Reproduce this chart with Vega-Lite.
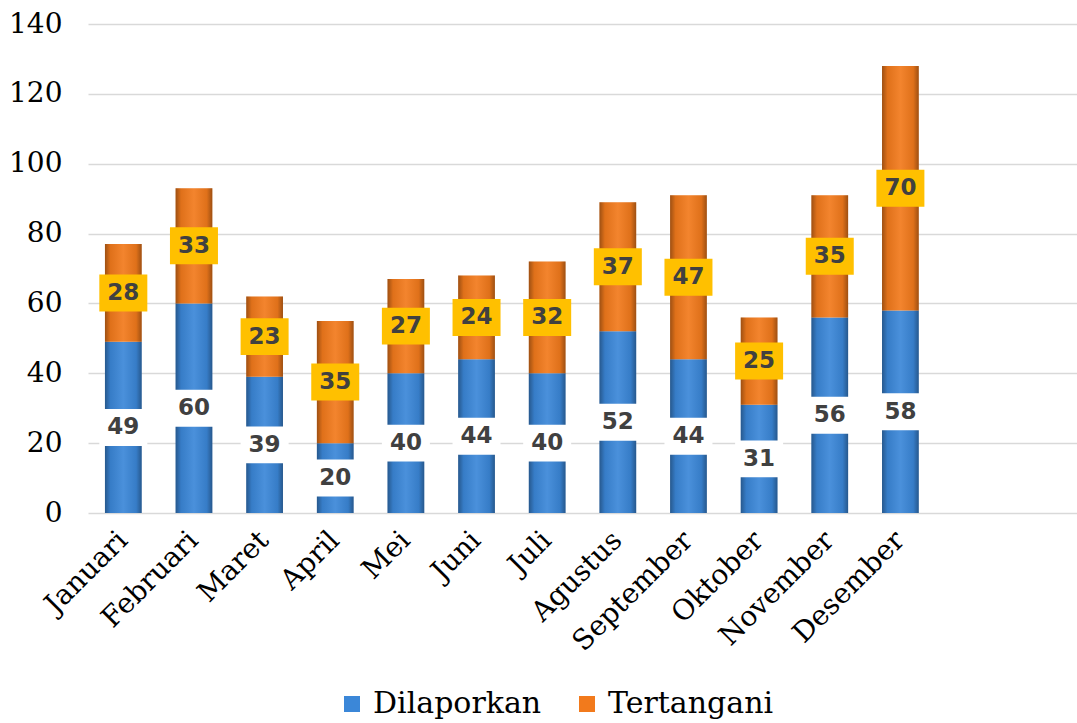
{
  "$schema": "https://vega.github.io/schema/vega-lite/v6.json",
  "width": 989,
  "height": 489,
  "autosize": {"type": "none"},
  "padding": {"left": 88, "top": 24, "right": 0, "bottom": 210},
  "background": "white",
  "config": {"view": {"stroke": null}, "font": "DejaVu Serif"},
  "data": {
    "values": [
      {"month": "Januari", "series": "Dilaporkan", "value": 49},
      {"month": "Februari", "series": "Dilaporkan", "value": 60},
      {"month": "Maret", "series": "Dilaporkan", "value": 39},
      {"month": "April", "series": "Dilaporkan", "value": 20},
      {"month": "Mei", "series": "Dilaporkan", "value": 40},
      {"month": "Juni", "series": "Dilaporkan", "value": 44},
      {"month": "Juli", "series": "Dilaporkan", "value": 40},
      {"month": "Agustus", "series": "Dilaporkan", "value": 52},
      {"month": "September", "series": "Dilaporkan", "value": 44},
      {"month": "Oktober", "series": "Dilaporkan", "value": 31},
      {"month": "November", "series": "Dilaporkan", "value": 56},
      {"month": "Desember", "series": "Dilaporkan", "value": 58},
      {"month": "Januari", "series": "Tertangani", "value": 28},
      {"month": "Februari", "series": "Tertangani", "value": 33},
      {"month": "Maret", "series": "Tertangani", "value": 23},
      {"month": "April", "series": "Tertangani", "value": 35},
      {"month": "Mei", "series": "Tertangani", "value": 27},
      {"month": "Juni", "series": "Tertangani", "value": 24},
      {"month": "Juli", "series": "Tertangani", "value": 32},
      {"month": "Agustus", "series": "Tertangani", "value": 37},
      {"month": "September", "series": "Tertangani", "value": 47},
      {"month": "Oktober", "series": "Tertangani", "value": 25},
      {"month": "November", "series": "Tertangani", "value": 35},
      {"month": "Desember", "series": "Tertangani", "value": 70}
    ]
  },
  "transform": [
    {"stack": "value", "groupby": ["month"], "sort": [{"field": "series", "order": "ascending"}], "as": ["v0", "v1"]},
    {"calculate": "(datum.v0 + datum.v1) / 2", "as": "mid"}
  ],
  "encoding": {
    "x": {
      "field": "month",
      "type": "nominal",
      "sort": null,
      "scale": {
        "domain": ["Januari", "Februari", "Maret", "April", "Mei", "Juni", "Juli", "Agustus", "September", "Oktober", "November", "Desember", "_a", "_b"],
        "paddingInner": 0.48,
        "paddingOuter": 0.24
      },
      "axis": {
        "title": null,
        "domain": false,
        "ticks": false,
        "grid": false,
        "labelAngle": -45,
        "labelAlign": "right",
        "labelBaseline": "middle",
        "labelFont": "DejaVu Serif",
        "labelFontSize": 28,
        "labelColor": "#000000",
        "labelPadding": 23,
        "labelExpr": "indexof(datum.value, '_') == 0 ? '' : datum.value"
      }
    }
  },
  "layer": [
    {
      "mark": {"type": "bar"},
      "encoding": {
        "y": {
          "field": "v0",
          "type": "quantitative",
          "scale": {"domain": [0, 140], "nice": false},
          "axis": {
            "title": null,
            "values": [0, 20, 40, 60, 80, 100, 120, 140],
            "domain": false,
            "ticks": false,
            "labelFont": "DejaVu Serif",
            "labelFontSize": 28,
            "labelColor": "#000000",
            "labelPadding": 26,
            "gridColor": "#d9d9d9",
            "gridWidth": 1.5
          }
        },
        "y2": {"field": "v1"},
        "color": {
          "field": "series",
          "type": "nominal",
          "scale": {"domain": ["Dilaporkan", "Tertangani"], "range": ["#3b87d8", "#f27a1c"]},
          "legend": {
            "orient": "none",
            "legendX": 249,
            "legendY": 665,
            "direction": "horizontal",
            "title": null,
            "symbolType": "square",
            "symbolSize": 256,
            "symbolStrokeWidth": 0,
            "labelFont": "DejaVu Serif",
            "labelFontSize": 30,
            "labelColor": "#000000",
            "labelLimit": 400,
            "labelOffset": 6,
            "columnPadding": 30
          }
        }
      }
    },
    {
      "mark": {
        "type": "bar",
        "fill": {
          "gradient": "linear",
          "x1": 0, "x2": 1, "y1": 0, "y2": 0,
          "stops": [
            {"offset": 0, "color": "rgba(0,0,0,0.35)"},
            {"offset": 0.15, "color": "rgba(0,0,0,0.08)"},
            {"offset": 0.5, "color": "rgba(255,255,255,0.08)"},
            {"offset": 0.85, "color": "rgba(0,0,0,0.08)"},
            {"offset": 1, "color": "rgba(0,0,0,0.35)"}
          ]
        }
      },
      "encoding": {
        "y": {"field": "v0", "type": "quantitative"},
        "y2": {"field": "v1"}
      }
    },
    {
      "mark": {
        "type": "point",
        "shape": "M-1,-0.77L1,-0.77L1,0.77L-1,0.77Z",
        "size": 2304,
        "filled": true,
        "opacity": 1,
        "strokeWidth": 0
      },
      "encoding": {
        "y": {"field": "mid", "type": "quantitative"},
        "fill": {
          "field": "series",
          "type": "nominal",
          "scale": {"domain": ["Dilaporkan", "Tertangani"], "range": ["#ffffff", "#ffc000"]},
          "legend": null
        }
      }
    },
    {
      "mark": {
        "type": "text",
        "font": "DejaVu Sans",
        "fontWeight": "bold",
        "fontSize": 23,
        "color": "#404040",
        "baseline": "middle",
        "align": "center"
      },
      "encoding": {
        "y": {"field": "mid", "type": "quantitative"},
        "text": {"field": "value", "type": "quantitative"}
      }
    }
  ]
}
